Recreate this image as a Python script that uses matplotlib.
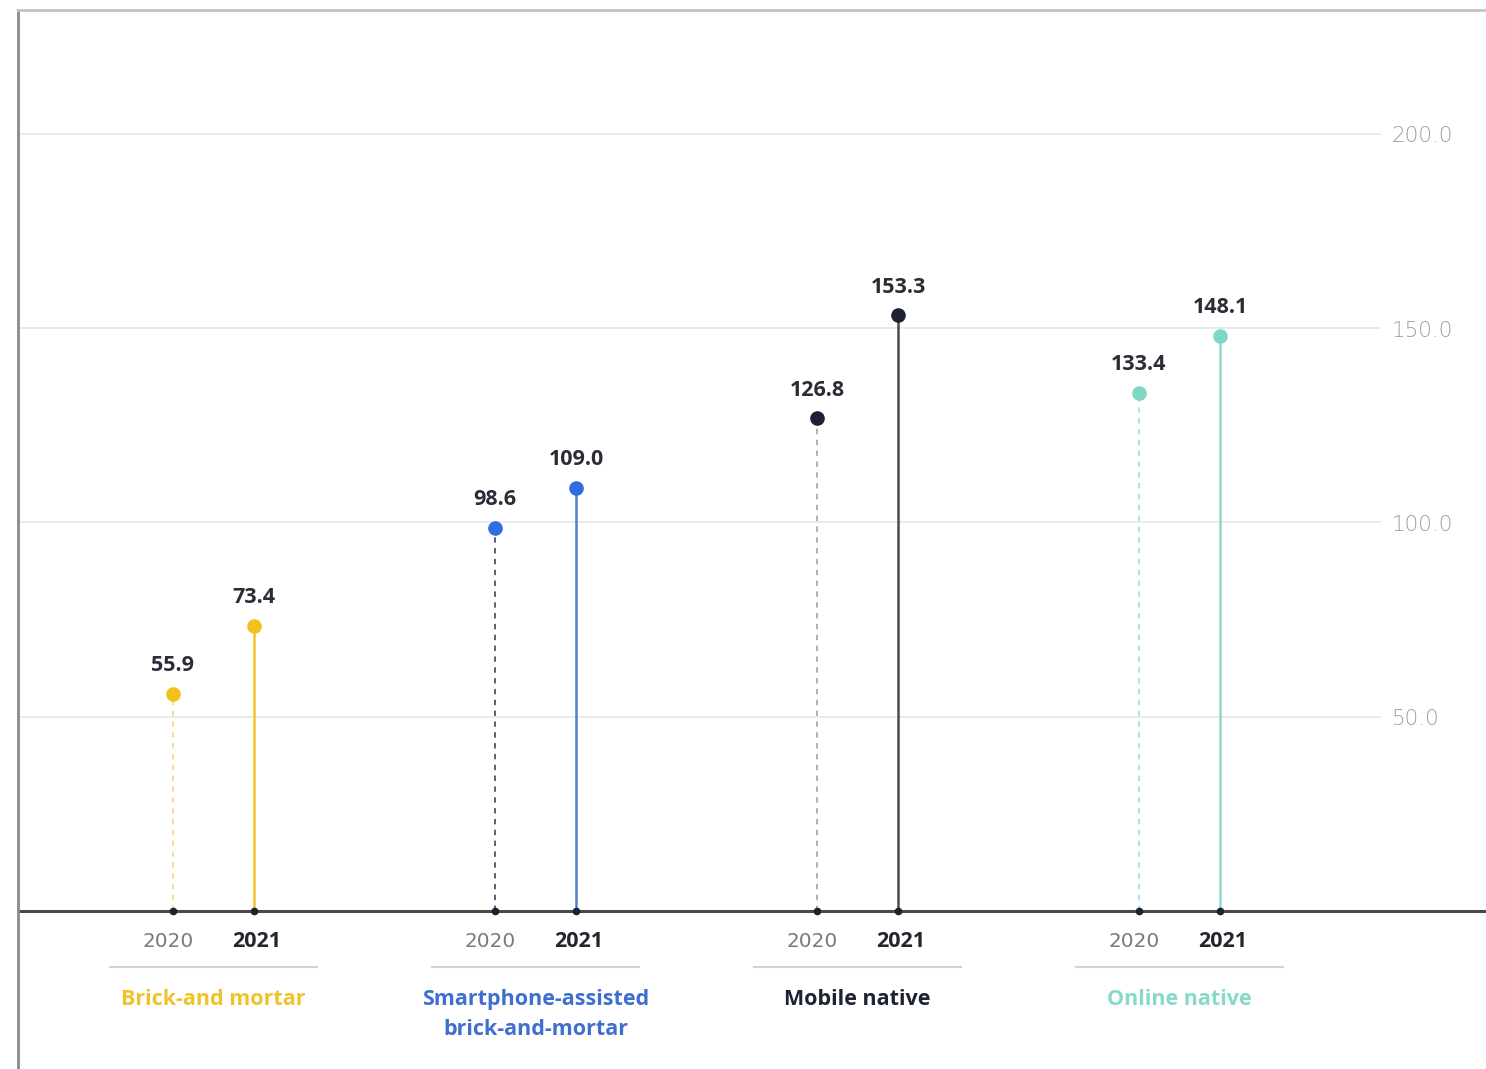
import matplotlib
matplotlib.use("Agg")
import matplotlib.pyplot as plt

# Data
categories = ["Brick-and mortar", "Smartphone-assisted\nbrick-and-mortar", "Mobile native", "Online native"]
years = ["2020", "2021"]
values_2020 = [55.9, 98.6, 126.8, 133.4]
values_2021 = [73.4, 109.0, 153.3, 148.1]
y_ticks = [50.0, 100.0, 150.0, 200.0]

# Styling per category
marker_colors = ["#F3C11B", "#2F6EE0", "#1C2133", "#7ED8C8"]
stem_2021_colors = ["#F1C52A", "#4F7FCF", "#4A4A4F", "#8FDCCD"]
stem_2020_colors = ["#F6DC7A", "#4A5566", "#A9A9AE", "#A3E2D6"]
label_colors = ["#F0C22A", "#3E6FD0", "#1E2233", "#86D9CB"]

offset = 0.126

plt.rcParams["font.family"] = ["Open Sans", "DejaVu Sans"]

fig = plt.figure(figsize=(14.86, 10.69), dpi=100)
ax = fig.add_axes([18 / 1486, 0.0, 1 - 18 / 1486, 1 - 10 / 1069])
ax.set_xlim(-0.607, 3.952)
ax.set_ylim(-40.66, 231.9)

for s in ["right", "bottom"]:
    ax.spines[s].set_visible(False)
ax.spines["left"].set_color("#8A8A8A")
ax.spines["left"].set_linewidth(2.0)
ax.spines["top"].set_color("#C4C4C4")
ax.spines["top"].set_linewidth(2.0)
ax.set_xticks([])
ax.set_yticks([])

# Gridlines with value labels on the right
for t in y_ticks:
    ax.plot([-0.607, 3.623], [t, t], color="#E6E6E6", lw=1.2, zorder=0)
    ax.text(3.66, t - 0.6, f"{t:.1f}", ha="left", va="center", fontsize=15.5,
            color="#9C9C9C", family=["DejaVu Sans"], fontweight="light")

# Baseline
ax.axhline(0, color="#4A4A4A", lw=2.2, zorder=2)

for i, cat in enumerate(categories):
    x0, x1 = i - offset, i + offset
    v0, v1 = values_2020[i], values_2021[i]
    # 2020 dashed stem
    ax.plot([x0, x0], [0, v0], color=stem_2020_colors[i], lw=1.3,
            ls=(0, (3, 3)), zorder=3)
    # 2021 solid stem
    ax.plot([x1, x1], [0, v1], color=stem_2021_colors[i], lw=1.8, zorder=3)
    # value markers
    ax.plot([x0, x1], [v0, v1], ls="none", marker="o", ms=9.5,
            color=marker_colors[i], zorder=4)
    # baseline dots
    ax.plot([x0, x1], [0, 0], ls="none", marker="o", ms=4.5,
            color="#1C2133", zorder=4)
    # value labels
    for x, v in [(x0, v0), (x1, v1)]:
        ax.text(x, v + 7.2, f"{v:.1f}", ha="center", va="center",
                fontsize=15.5, fontweight="bold", color="#2A2D36")
    # year labels
    ax.text(x0 - 0.015, -7.8, years[0], ha="center", va="center", fontsize=14.4,
            color="#7A7A7A", family=["DejaVu Sans"])
    ax.text(x1 + 0.008, -7.8, years[1], ha="center", va="center", fontsize=15.5,
            color="#23262F", fontweight="bold")
    # separator line
    ax.plot([i - 0.321, i + 0.321], [-14.4, -14.4], color="#D2D2D2", lw=1.5)
    # category label
    ax.text(i, -20.0, cat, ha="center", va="top", fontsize=15.5,
            fontweight="bold", color=label_colors[i], linespacing=1.6)

fig.savefig("out.png", dpi=100)
